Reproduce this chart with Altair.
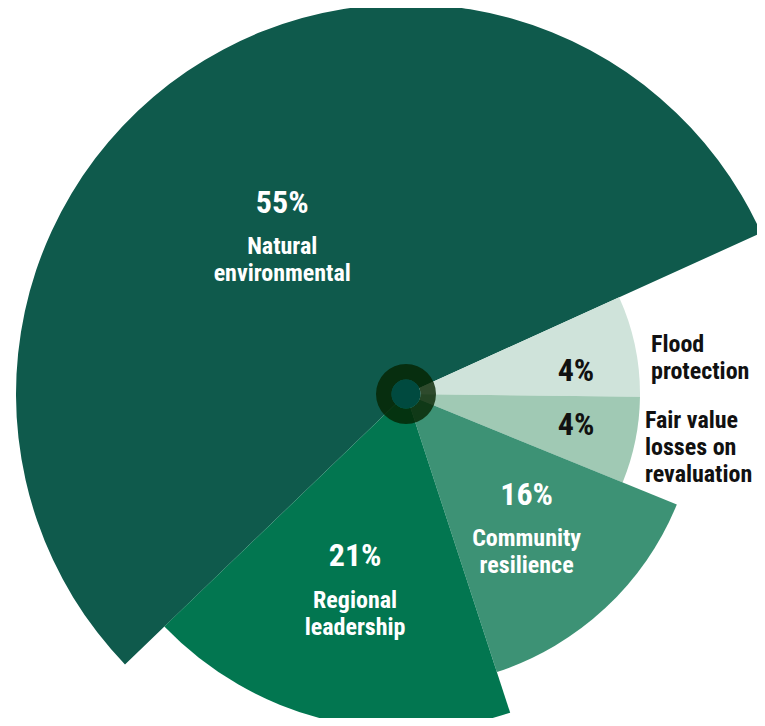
import math
import altair as alt
import pandas as pd
import numpy as np

# ---- data ----
categories = ["Natural environmental", "Flood protection",
              "Fair value losses on revaluation", "Community resilience",
              "Regional leadership"]
pct_labels = ["55%", "4%", "4%", "16%", "21%"]
name_labels = ["Natural\nenvironmental", "Flood\nprotection",
               "Fair value\nlosses on\nrevaluation", "Community\nresilience",
               "Regional\nleadership"]
arc_extent_deg = [199.5, 25.1, 21.5, 49.7, 64.2]   # angular size of each slice
reach = [100, 60, 60, 75, 86]                       # relative outer radius
colors = ["#0f5a4c", "#cfe3da", "#a0c9b4", "#3d9275", "#027650"]

# ---- layout / style ----
CX, CY = 398, 386           # centre of the pie inside the view
R_MAX = 390
START_DEG = 226.1
label_inside = {"Natural environmental": True, "Flood protection": False,
                "Fair value losses on revaluation": False,
                "Community resilience": True, "Regional leadership": True}
pct_nudge = {"Natural environmental": (-3.2, 204), "Flood protection": (4.1, 171.5),
             "Fair value losses on revaluation": (-1.2, 172.8),
             "Community resilience": (0.0, 177), "Regional leadership": (0.9, 198)}
name_nudge = {"Flood protection": (0.5, 249.9),
              "Fair value losses on revaluation": (-5.0, 240.5)}
FONT = "Liberation Sans Narrow, Roboto Condensed, DejaVu Sans Condensed, sans-serif"

df = pd.DataFrame({"cat": categories, "pct": pct_labels, "name": name_labels,
                   "deg": arc_extent_deg, "reach": reach,
                   "idx": list(range(len(categories)))})
cum = np.cumsum(df["deg"])
df["t0"] = cum - df["deg"]
df["t1"] = cum
mid = cum - df["deg"] / 2
df["inside"] = [label_inside[c] for c in categories]
df["pt"] = [m + pct_nudge[c][0] for m, c in zip(mid, categories)]
df["pr"] = [pct_nudge[c][1] for c in categories]
df["nt"] = [m + name_nudge.get(c, (0, 0))[0] for m, c in zip(mid, categories)]
df["nr"] = [name_nudge.get(c, (0, 0))[1] for c in categories]

start = math.radians(START_DEG)
theta_scale = alt.Scale(domain=[0, 360], range=[start, start + 2 * math.pi])
xy = dict(x=alt.value(CX), y=alt.value(CY))

arcs = alt.Chart(df).mark_arc(stroke=None).encode(
    theta=alt.Theta("t0:Q", scale=theta_scale),
    theta2="t1:Q",
    radius=alt.Radius("reach:Q", scale=alt.Scale(type="linear", domain=[0, 100],
                                                 range=[0, R_MAX], zero=True)),
    color=alt.Color("cat:N", scale=alt.Scale(domain=categories, range=colors), legend=None),
    **xy,
)

one = alt.Data(values=[{"k": 0}])
ring = alt.Chart(one).mark_arc(theta=0, theta2=2 * math.pi, innerRadius=14.5,
                               outerRadius=30, color="#052300", opacity=0.8).encode(**xy)
dot = alt.Chart(one).mark_arc(theta=0, theta2=2 * math.pi, innerRadius=0,
                              outerRadius=14.5, color="#004a3f").encode(**xy)

inside = alt.Chart(df).transform_filter("datum.inside")
outside = alt.Chart(df).transform_filter("!datum.inside")

in_pct = inside.mark_text(font=FONT, fontSize=32, fontWeight="bold", color="white",
                          baseline="middle", align="center", dy=-29).encode(
    theta=alt.Theta("pt:Q", scale=theta_scale),
    radius=alt.Radius("pr:Q", scale=None), text="pct:N", **xy)
in_name = inside.mark_text(font=FONT, fontSize=24, fontWeight="bold", color="white",
                           baseline="middle", align="center", dy=15.5,
                           lineBreak="\n", lineHeight=27).encode(
    theta=alt.Theta("pt:Q", scale=theta_scale),
    radius=alt.Radius("pr:Q", scale=None), text="name:N", **xy)
out_pct = outside.mark_text(font=FONT, fontSize=32, fontWeight="bold", color="#111111",
                            baseline="middle", align="center").encode(
    theta=alt.Theta("pt:Q", scale=theta_scale),
    radius=alt.Radius("pr:Q", scale=None), text="pct:N", **xy)
out_name = outside.mark_text(font=FONT, fontSize=24, fontWeight="bold", color="#111111",
                             baseline="middle", align="left",
                             lineBreak="\n", lineHeight=27).encode(
    theta=alt.Theta("nt:Q", scale=theta_scale),
    radius=alt.Radius("nr:Q", scale=None), text="name:N", **xy)

chart = alt.layer(arcs, ring, dot, in_pct, in_name, out_pct, out_name).resolve_scale(
    radius="independent"
).properties(width=749, height=710, padding=0, autosize="none",
             background="white").configure_view(stroke=None)

chart.save("out.html", embed_options={"renderer": "svg", "actions": False})
